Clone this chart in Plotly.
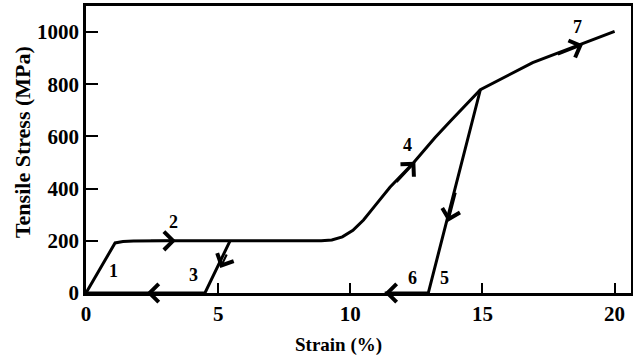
import plotly.graph_objects as go

# Loading path (segments 1, 2, 4, 7)
load_strain = [0, 1.1, 1.4, 1.8, 3.0, 5.45, 8.9, 9.3, 9.7, 10.1, 10.5, 10.9, 11.5, 12.4, 13.2, 13.8, 14.4, 14.92, 16.9, 20.0]
load_stress = [0, 192, 197, 199, 200, 200, 200, 203, 215, 240, 280, 330, 405, 500, 595, 660, 725, 779, 883, 1003]

# First unloading (3) and return to origin
unload1_strain = [5.45, 4.5, 0]
unload1_stress = [200, 0, 0]

# Second unloading (5) and 6
unload2_strain = [14.92, 12.95, 11.3]
unload2_stress = [779, 0, 0]

# Arrow heads (tip) and tails along the path
arrow_tip_x = [3.4, 5.08, 2.3, 12.46, 13.7, 11.3, 18.8]
arrow_tip_y = [200, 96, 0, 503, 273, 0, 952]
arrow_tail_x = [2.4, 5.35, 3.3, 11.7, 14.0, 12.3, 17.8]
arrow_tail_y = [200, 153, 0, 420, 390, 0, 912]

# Segment labels
label_text = ["1", "2", "3", "4", "5", "6", "7"]
label_x = [1.05, 3.3, 4.05, 12.15, 13.55, 12.35, 18.6]
label_y = [85, 273, 69, 568, 57, 57, 1021]

x_ticks = [0, 5, 10, 15, 20]
y_ticks = [0, 200, 400, 600, 800, 1000]

FONT = "Liberation Serif"

fig = go.Figure()
for xs, ys in [(load_strain, load_stress), (unload1_strain, unload1_stress), (unload2_strain, unload2_stress)]:
    fig.add_trace(go.Scatter(x=xs, y=ys, mode="lines",
                             line=dict(color="black", width=3), hoverinfo="skip", showlegend=False))

for tx, ty, ax, ay in zip(arrow_tip_x, arrow_tip_y, arrow_tail_x, arrow_tail_y):
    fig.add_annotation(x=tx, y=ty, ax=ax, ay=ay, xref="x", yref="y", axref="x", ayref="y",
                       showarrow=True, arrowhead=4, arrowsize=1.6, arrowwidth=2.2,
                       arrowcolor="black", text="")

for t, lx, ly in zip(label_text, label_x, label_y):
    fig.add_annotation(x=lx, y=ly, xref="x", yref="y", text=f"<b>{t}</b>", showarrow=False,
                       font=dict(family=FONT, size=18, color="black"))

# Axis titles
fig.add_annotation(x=0.464, y=-0.181, xref="paper", yref="paper", text="<b>Strain (%)</b>",
                   showarrow=False, xanchor="center", yanchor="middle",
                   font=dict(family=FONT, size=19, color="black"))
fig.add_annotation(x=-0.1174, y=0.526, xref="paper", yref="paper", text="<b>Tensile Stress (MPa)</b>",
                   showarrow=False, xanchor="center", yanchor="middle", textangle=-90,
                   font=dict(family=FONT, size=22, color="black"))

fig.update_layout(
    width=633, height=361,
    margin=dict(l=86, r=2, t=6, b=68, autoexpand=False),
    paper_bgcolor="white", plot_bgcolor="white",
    font=dict(family=FONT, color="black"),
)
fig.update_xaxes(range=[0, 20.62], tickvals=x_ticks, ticktext=[f"<b>{v}</b>" for v in x_ticks],
                 ticks="inside", ticklen=10, tickwidth=2, tickcolor="black",
                 showline=True, linewidth=2.5, linecolor="black", mirror=True,
                 showgrid=False, zeroline=False, automargin=False,
                 tickfont=dict(family=FONT, size=21, color="black"))
fig.update_yaxes(range=[0, 1100], tickvals=y_ticks, ticktext=[f"<b>{v}</b>" for v in y_ticks],
                 ticks="inside", ticklen=12, tickwidth=2, tickcolor="black",
                 showline=True, linewidth=2.5, linecolor="black", mirror=True,
                 showgrid=False, zeroline=False, automargin=False,
                 tickfont=dict(family=FONT, size=21, color="black"))

fig.write_html("out.html", config={"displayModeBar": False},
               post_script="document.body.style.margin='0px';")
